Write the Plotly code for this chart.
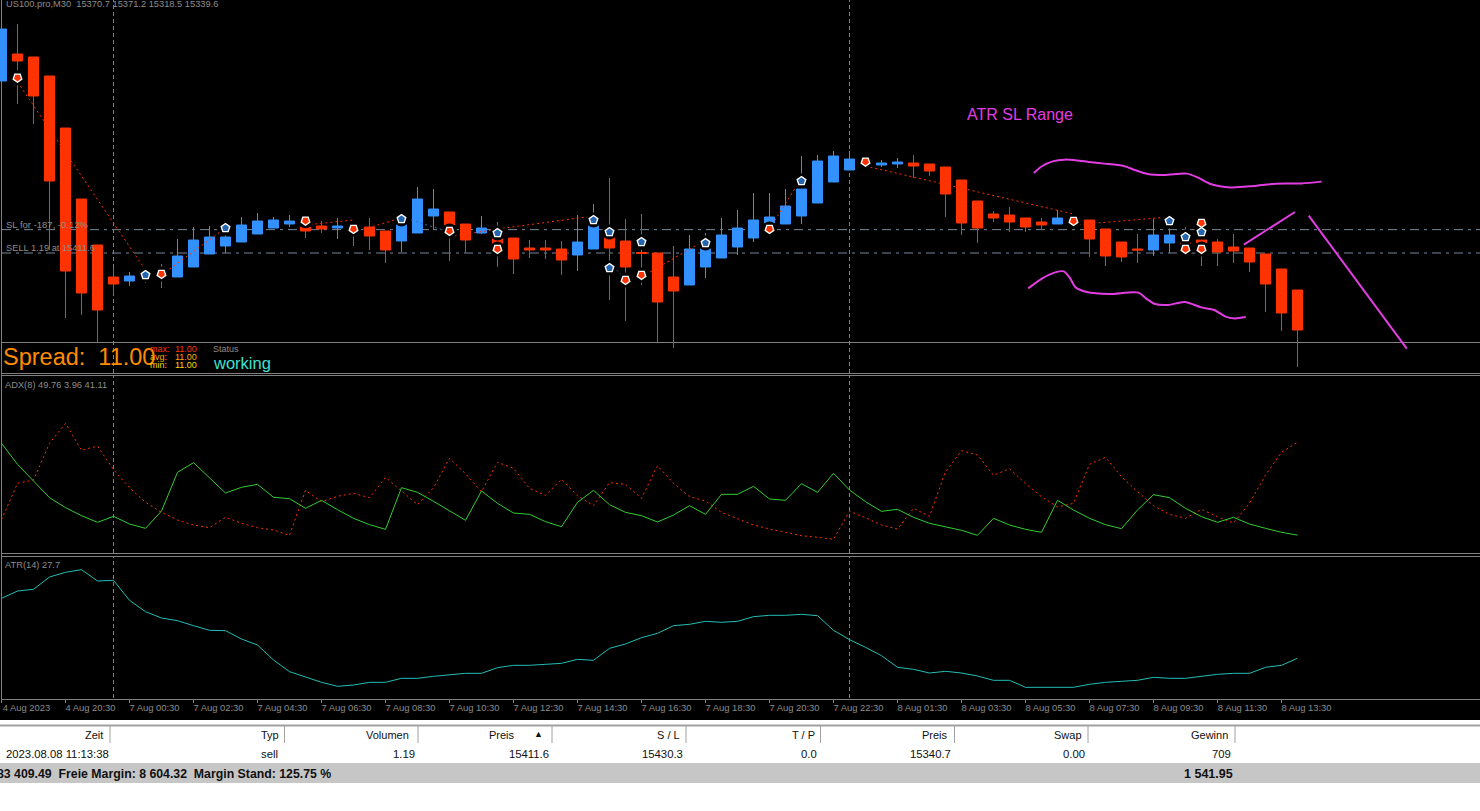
import plotly.graph_objects as go

W, H = 1480, 811

# M30 candles, US100.pro
OPEN = [15549.2,15570.8,15568.4,15553.2,15511.6,15454.8,15418.0,15392.4,15389.2,15392.4,15396.4,15392.4,15400.4,15410.8,15417.2,15420.4,15426.8,15431.6,15434.8,15432.4,15433.2,15431.6,15433.2,15432.4,15429.2,15421.2,15427.6,15441.2,15444.4,15434.8,15427.6,15423.6,15423.6,15415.6,15415.6,15414.8,15410.0,15414.8,15424.4,15421.2,15412.0,15411.6,15392.4,15386.0,15400.4,15407.6,15416.4,15423.6,15435.6,15434.8,15441.2,15451.6,15468.4,15478.0,15486.0,15482.0,15482.8,15483.6,15482.8,15480.4,15470.0,15453.2,15442.8,15442.0,15439.6,15436.4,15434.8,15440.4,15438.0,15430.8,15420.4,15414.8,15414.0,15419.6,15421.2,15422.0,15420.4,15416.4,15415.6,15410.8,15398.8,15382.0]
HIGH = [15590.8,15594.8,15568.4,15553.2,15511.6,15454.8,15418.0,15399.6,15396.4,15398.0,15402.8,15422.8,15432.4,15433.2,15431.6,15440.4,15443.6,15440.4,15442.0,15440.4,15437.2,15439.6,15436.4,15439.6,15429.2,15442.8,15464.4,15462.8,15444.4,15434.8,15441.2,15436.4,15423.6,15422.0,15422.0,15421.2,15442.0,15450.8,15471.6,15438.8,15442.8,15411.6,15417.2,15426.0,15427.6,15439.6,15446.0,15459.6,15459.6,15462.8,15489.2,15490.0,15493.2,15493.2,15487.6,15486.0,15487.6,15490.0,15482.8,15480.4,15470.0,15453.2,15445.2,15448.4,15439.6,15439.6,15446.0,15442.8,15438.0,15430.8,15420.4,15426.8,15438.8,15431.6,15432.4,15423.6,15422.8,15426.8,15415.6,15410.8,15398.8,15382.0]
LOW = [15549.2,15530.8,15514.8,15414.0,15359.6,15362.0,15339.6,15378.8,15385.2,15387.6,15383.6,15392.4,15400.4,15410.8,15411.6,15420.4,15426.8,15431.6,15432.4,15423.6,15427.6,15422.8,15417.2,15414.0,15403.6,15412.4,15427.6,15430.0,15405.2,15411.6,15426.8,15400.4,15394.8,15407.6,15406.8,15394.0,15397.2,15414.8,15374.0,15357.2,15386.0,15340.4,15335.6,15386.0,15391.6,15407.6,15410.0,15420.4,15430.8,15434.8,15434.8,15451.6,15468.4,15478.0,15481.2,15480.4,15479.6,15471.6,15473.2,15440.4,15426.0,15419.6,15436.4,15428.4,15428.4,15430.0,15434.8,15434.8,15408.4,15401.2,15404.4,15403.6,15409.2,15411.6,15411.6,15401.2,15401.2,15403.6,15396.4,15364.4,15349.2,15320.4]
CLOSE = [15590.8,15565.2,15537.2,15469.2,15397.2,15379.6,15366.0,15386.8,15393.2,15394.8,15393.2,15409.2,15422.0,15424.4,15424.4,15434.0,15437.2,15438.0,15437.2,15429.2,15430.8,15433.2,15430.0,15425.2,15414.0,15434.8,15454.8,15446.8,15434.0,15422.0,15431.6,15418.8,15406.8,15414.0,15414.0,15406.0,15420.4,15434.0,15415.6,15400.4,15411.2,15372.4,15381.2,15414.8,15415.6,15426.0,15431.6,15438.0,15440.4,15449.2,15462.8,15485.2,15489.2,15486.8,15483.6,15483.6,15484.4,15481.2,15477.2,15458.8,15435.6,15431.6,15439.6,15436.4,15432.4,15434.0,15439.6,15437.2,15422.8,15409.2,15408.4,15414.0,15426.0,15426.0,15418.0,15419.6,15412.4,15413.2,15404.4,15386.8,15363.6,15350.0]

# ADX(8): +DI solid, -DI dotted
DI_PLUS = [40.67,32.27,25.6,18.93,14.93,11.73,9.07,11.47,8.4,6.67,13.6,29.07,32.93,26.8,20.8,23.07,24.27,19.07,18.53,14.67,17.87,14.13,10.67,8.13,6.27,22.93,21.07,17.47,13.6,9.87,21.6,16.67,12.8,12.27,9.33,7.33,17.07,21.87,16.13,13.07,11.73,9.2,12.0,15.73,12.27,20.27,20.27,23.47,18.4,17.87,24.53,21.07,28.67,22.0,17.33,13.47,14.27,11.07,8.67,7.2,5.87,3.87,10.67,8.0,6.27,5.07,17.87,14.0,10.67,8.13,6.53,14.0,20.13,18.93,14.67,11.33,9.07,11.07,8.4,6.67,5.07,3.96]
DI_MINUS = [10.13,24.67,26.0,40.67,48.67,37.87,39.6,30.13,22.93,17.07,13.07,10.0,8.0,6.93,11.07,8.67,6.93,6.0,3.87,21.87,17.33,19.47,20.67,18.93,27.07,21.73,16.13,22.93,34.67,28.53,21.33,33.07,30.67,22.67,19.87,26.27,19.73,15.73,24.93,24.27,18.67,31.73,24.67,19.33,17.6,13.07,10.4,8.0,6.4,5.07,3.73,3.07,2.27,13.47,10.93,8.0,6.4,14.67,11.47,29.33,37.73,36.0,27.87,30.53,24.53,19.33,15.2,16.67,32.27,35.07,27.33,21.33,15.73,12.27,10.67,14.27,11.33,8.8,16.67,28.0,37.07,41.11]

# ATR(14)
ATR = [51.67,54.6,55.27,60.2,62.07,63.13,58.6,58.87,50.87,46.33,43.8,42.73,40.73,38.87,38.73,35.4,33.0,27.0,22.33,20.33,18.07,16.47,17.0,18.07,18.07,19.67,19.67,20.47,21.0,21.67,21.67,23.93,24.87,24.87,25.27,25.67,27.27,26.87,31.67,33.4,35.93,37.67,40.73,41.27,42.47,42.07,42.47,44.33,44.87,44.87,45.27,44.73,38.87,35.13,32.07,28.73,24.07,23.27,21.8,22.47,21.8,20.6,18.87,18.87,16.07,16.07,16.07,16.07,17.27,18.07,18.47,18.87,20.07,19.67,19.67,20.47,21.27,21.67,21.67,24.07,24.87,27.7]

TICK_BARS = list(range(0, 81, 4))
TICK_LABELS = ["4 Aug 2023","4 Aug 20:30","7 Aug 00:30","7 Aug 02:30","7 Aug 04:30","7 Aug 06:30","7 Aug 08:30","7 Aug 10:30","7 Aug 12:30","7 Aug 14:30","7 Aug 16:30","7 Aug 18:30","7 Aug 20:30","7 Aug 22:30","8 Aug 01:30","8 Aug 03:30","8 Aug 05:30","8 Aug 07:30","8 Aug 09:30","8 Aug 11:30","8 Aug 13:30"]

SL_PRICE = 15430.3
SELL_PRICE = 15411.6
SEPARATOR_BARS = [7, 53]

# Order arrows: bar number and price
SELL_BARS = [1,10,19,22,28,31,39,40,48,54,67,74,75,75]
SELL_PRICES = [15551.8,15394.8,15437.4,15430.8,15429.2,15414.8,15390.0,15394.0,15430.8,15484.6,15437.2,15414.8,15435.6,15414.8]
BUY_BARS = [9,14,25,31,37,38,38,40,44,50,73,74,75]
BUY_PRICES = [15394.0,15431.6,15438.8,15427.6,15438.0,15428.4,15399.6,15420.4,15419.6,15469.2,15437.2,15424.4,15428.4]

# Closed-trade connectors: start bar, start price, end bar, end price
RED_TRADES = [(1,15548.4,9,15398.0),(10,15394.0,14,15431.6),(19,15434.0,22,15438.0),(22,15428.4,25,15439.6),
              (28,15424.6,31,15430.8),(31,15430.8,37,15441.2),(40,15392.4,44,15422.0),(48,15430.8,50,15471.6),
              (54,15481.2,67,15442.8),(67,15434.0,73,15440.4)]
BLUE_TRADES = [(25,15440.4,28,15428.4),(38,15403.6,39,15390.8)]

# Hand-drawn ATR SL range marks
UPPER_X = [64.52,65.05,65.70,66.44,67.36,68.75,70.14,70.83,71.64,72.68,74.07,74.76,75.57,76.84,78.23,79.62,81.24,82.51]
UPPER_Y = [15475.6,15481.2,15484.9,15486.3,15485.5,15483.3,15481.2,15478.0,15474.8,15474.0,15475.1,15472.1,15466.8,15464.1,15465.2,15467.1,15467.3,15468.7]
LOWER_X = [64.17,65.05,65.86,66.39,66.79,67.13,67.83,69.21,71.06,71.53,72.10,72.91,73.95,74.99,75.80,76.50,77.07,77.77]
LOWER_Y = [15383.3,15391.3,15396.1,15396.9,15391.3,15384.1,15380.4,15378.8,15379.9,15375.3,15370.8,15370.0,15372.4,15368.1,15366.0,15360.7,15359.3,15360.4]
RISE_X = [77.65,80.84]
RISE_Y = [15418.3,15444.4]
DROP_X = [81.70,87.83]
DROP_Y = [15441.5,15335.1]

UP_COLOR = "#3390FF"
DOWN_COLOR = "#FF3200"
GREY = "#8C8C8C"
PINK = "#E23DE2"
FRAME = "#808080"
SANS = "Liberation Sans, Arial"


def px(x):
    return x / W


def py(y):
    return 1 - y / H


def connectors(trades):
    xs, ys = [], []
    for x0, y0, x1, y1 in trades:
        xs += [x0, x1, None]
        ys += [y0, y1, None]
    return xs, ys


bars = list(range(len(OPEN)))
x_range = [-1.5 / 16, (W - 1.5) / 16]

fig = go.Figure()

fig.add_trace(go.Candlestick(
    x=bars, open=OPEN, high=HIGH, low=LOW, close=CLOSE, whiskerwidth=0,
    increasing=dict(line=dict(color=UP_COLOR, width=1), fillcolor=UP_COLOR),
    decreasing=dict(line=dict(color=DOWN_COLOR, width=1), fillcolor=DOWN_COLOR),
    hoverinfo="skip", xaxis="x", yaxis="y",
))

for trades, color in ((RED_TRADES, DOWN_COLOR), (BLUE_TRADES, "#2F6FC0")):
    tx, ty = connectors(trades)
    fig.add_trace(go.Scatter(x=tx, y=ty, mode="lines", hoverinfo="skip",
                             line=dict(color=color, width=1, dash="2px,3px"),
                             xaxis="x", yaxis="y"))

# black halo first, then the white-edged arrows on top
fig.add_trace(go.Scatter(x=SELL_BARS + BUY_BARS, y=SELL_PRICES + BUY_PRICES, mode="markers",
                         marker=dict(symbol="circle", size=15, color="black", line=dict(width=0)),
                         hoverinfo="skip", xaxis="x", yaxis="y"))
fig.add_trace(go.Scatter(x=SELL_BARS, y=SELL_PRICES, mode="markers",
                         marker=dict(symbol="pentagon", angle=180, size=9, color=DOWN_COLOR,
                                     line=dict(color="white", width=1.4)),
                         hoverinfo="skip", xaxis="x", yaxis="y"))
fig.add_trace(go.Scatter(x=BUY_BARS, y=BUY_PRICES, mode="markers",
                         marker=dict(symbol="pentagon", size=9, color="#2566B0",
                                     line=dict(color="white", width=1.4)),
                         hoverinfo="skip", xaxis="x", yaxis="y"))

for xs, ys, smooth in ((UPPER_X, UPPER_Y, True), (LOWER_X, LOWER_Y, True),
                       (RISE_X, RISE_Y, False), (DROP_X, DROP_Y, False)):
    fig.add_trace(go.Scatter(x=xs, y=ys, mode="lines", hoverinfo="skip",
                             line=dict(color=PINK, width=2, shape="spline" if smooth else "linear",
                                       smoothing=0.8 if smooth else None),
                             xaxis="x", yaxis="y"))

fig.add_trace(go.Scatter(x=bars, y=DI_MINUS, mode="lines", hoverinfo="skip",
                         line=dict(color=DOWN_COLOR, width=1, dash="2px,3px"), xaxis="x2", yaxis="y2"))
fig.add_trace(go.Scatter(x=bars, y=DI_PLUS, mode="lines", hoverinfo="skip",
                         line=dict(color="#32CD32", width=1), xaxis="x2", yaxis="y2"))
fig.add_trace(go.Scatter(x=bars, y=ATR, mode="lines", hoverinfo="skip",
                         line=dict(color="#24BDB4", width=1), xaxis="x3", yaxis="y3"))


def hline(y0, color=FRAME, width=1, x0=1, x1=W, dash="solid", layer="below"):
    return dict(type="line", xref="paper", yref="paper", x0=px(x0), x1=px(x1), y0=py(y0), y1=py(y0),
                line=dict(color=color, width=width, dash=dash), layer=layer)


def vline(x0, y0, y1, color=FRAME, width=1, dash="solid", layer="below"):
    return dict(type="line", xref="paper", yref="paper", x0=px(x0), x1=px(x0), y0=py(y0), y1=py(y1),
                line=dict(color=color, width=width, dash=dash), layer=layer)


shapes = [
    dict(type="rect", xref="paper", yref="paper", x0=0, x1=1, y0=py(720), y1=1,
         fillcolor="black", line=dict(width=0), layer="below"),
    dict(type="rect", xref="paper", yref="paper", x0=0, x1=1, y0=py(783), y1=py(763),
         fillcolor="#C6C6C6", line=dict(width=0), layer="below"),
    hline(342.5), hline(373.5), hline(375.5), hline(553.5), hline(556.5), hline(699.5),
    vline(1.5, 0, 699),
    hline(725.5, color="#A0A0A0", width=2, x0=0),
]
for level in (SL_PRICE, SELL_PRICE):
    shapes.append(dict(type="line", xref="paper", yref="y", x0=px(2), x1=1, y0=level, y1=level,
                       line=dict(color="#778899", width=1, dash="9px,5px,3px,5px"), layer="below"))
for b in SEPARATOR_BARS:
    for xr, yr in (("x", "y"), ("x2", "y2"), ("x3", "y3")):
        shapes.append(dict(type="line", xref=xr, yref=yr + " domain", x0=b, x1=b, y0=0, y1=1,
                           line=dict(color=FRAME, width=1, dash="4px,3px"), layer="below"))
for x in (110, 284.5, 418, 552, 686, 820.5, 954.5, 1088, 1235):
    shapes.append(vline(x, 726, 743, color="#A0A0A0"))


def label(text, x, y, size, color, family=SANS, anchor="left"):
    return dict(text=text, x=px(x), y=py(y), xref="paper", yref="paper", xanchor=anchor, yanchor="middle",
                showarrow=False, font=dict(family=family, size=size, color=color), borderpad=0, borderwidth=0)


TITLE_TEXT = "US100.pro,M30  15370.7 15371.2 15318.5 15339.6"
annotations = [
    label(TITLE_TEXT, 6, 4.5, 9.3, GREY),
    label("SL for -187, -0.12%", 6, 224.5, 9.5, GREY),
    label("SELL 1.19 at 15411.6", 6, 248, 9.3, GREY),
    label("ATR SL Range", 967, 114, 16, PINK),
    label("Spread:  11.00", 3, 357, 23.5, "#FF8C00"),
    label("max:", 150, 349, 9, DOWN_COLOR),
    label("11.00", 175, 349, 9, DOWN_COLOR),
    label("avg:", 150, 357, 9, "#FFA500"),
    label("11.00", 175, 357, 9, "#FFA500"),
    label("min:", 150, 365, 9, "#FFD700"),
    label("11.00", 175, 365, 9, "#FFD700"),
    label("Status", 213, 349, 9, GREY),
    label("working", 213, 363, 16.5, "#40E0D0"),
    label("ADX(8) 49.76 3.96 41.11", 5, 385, 9.3, GREY),
    label("ATR(14) 27.7", 5, 565, 9.3, GREY),
]
HEADERS = [("Zeit", 103), ("Typ", 279), ("Volumen", 409), ("Preis", 515), ("S / L", 680),
           ("T / P", 814.5), ("Preis", 947.5), ("Swap", 1082), ("Gewinn", 1228)]
ROW = [("2023.08.08 11:13:38", 108.5), ("sell", 278), ("1.19", 415), ("15411.6", 548.5), ("15430.3", 683),
       ("0.0", 817), ("15340.7", 951), ("0.00", 1085), ("709", 1230.5)]
for text, x in HEADERS:
    annotations.append(label(text, x, 735, 11, "#101010", SANS, "right"))
for text, x in ROW:
    annotations.append(label(text, x, 754, 11.3, "#101010", SANS, "right"))
annotations.append(label("▲", 538, 734, 9, "#101010", SANS, "center"))
annotations.append(label("<b>83 409.49  Freie Margin: 8 604.32  Margin Stand: 125.75 %</b>", 331, 774, 12.3, "#101010", SANS, "right"))
annotations.append(label("<b>1 541.95</b>", 1233, 774, 12.5, "#101010", SANS, "right"))

hidden_x = dict(range=x_range, visible=False, fixedrange=True)
fig.update_layout(
    width=W, height=H, margin=dict(l=0, r=0, t=0, b=0, pad=0),
    paper_bgcolor="white", plot_bgcolor="black", showlegend=False,
    boxgap=0.375, boxgroupgap=0, shapes=shapes, annotations=annotations,
    xaxis=dict(domain=[0, 1], anchor="y", rangeslider=dict(visible=False), **hidden_x),
    xaxis2=dict(domain=[0, 1], anchor="y2", **hidden_x),
    xaxis3=dict(domain=[0, 1], anchor="y3", range=x_range, fixedrange=True, showgrid=False, zeroline=False,
                showline=False, ticks="outside", ticklen=4, tickwidth=1, tickcolor=FRAME,
                tickmode="array", tickvals=TICK_BARS, ticktext=TICK_LABELS, ticklabelshift=25,
                ticklabelstandoff=-3, ticklabeloverflow="allow",
                tickfont=dict(family=SANS, size=9.4, color=GREY)),
    yaxis=dict(domain=[py(373), 1], range=[15614 - 0.8 * 373, 15614], visible=False, fixedrange=True),
    yaxis2=dict(domain=[py(553), py(376)], range=[218 - 0.4 * 553, 218 - 0.4 * 376], visible=False, fixedrange=True),
    yaxis3=dict(domain=[py(698), py(557)], range=[291 - 0.4 * 698, 291 - 0.4 * 557], visible=False, fixedrange=True),
)

fig.write_html("out.html", config={"displayModeBar": False})
